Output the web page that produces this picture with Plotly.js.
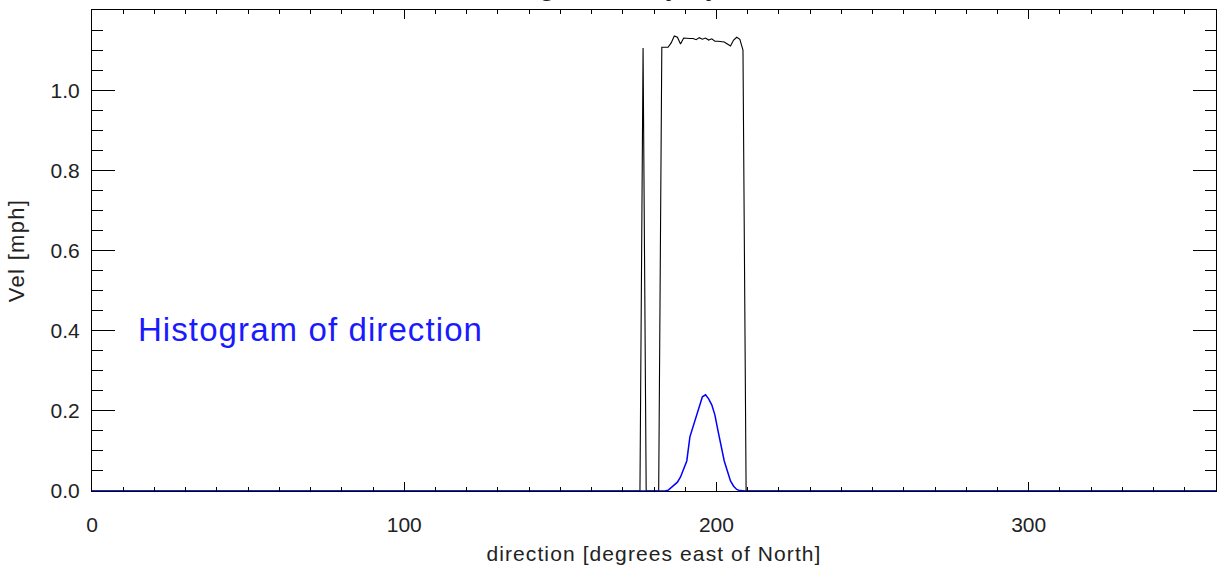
<!DOCTYPE html>
<html>
<head>
<meta charset="utf-8">
<script src="https://cdn.plot.ly/plotly-3.0.1.min.js"></script>
<style>
  html, body { margin: 0; padding: 0; background: #ffffff; }
  #chart { width: 1218px; height: 571px; }
  #chart .xtitle { letter-spacing: 1.1px; }
  #chart .ytitle { letter-spacing: 1.3px; }
  #chart .annotation[data-index="0"] .annotation-text { letter-spacing: 1.1px; }
</style>
</head>
<body>
<div id="chart"></div>
<script>
// Average velocity per 1-degree direction bin (bin centres, degrees east of North)
const velDirection = [0, 175.5, 176.5, 177.5, 181.5, 182.5, 183.5, 184.5, 185.5, 186.5,
  187.5, 188.5, 189.5, 190.5, 191.5, 192.5, 193.5, 194.5, 195.5, 196.5,
  197.5, 198.5, 199.5, 200.5, 201.5, 202.5, 203.5, 204.5, 205.5, 206.5,
  207.5, 208.5, 209.5, 360];
const velValues = [0, 0, 1.105, 0, 0, 1.107, 1.107, 1.107, 1.118, 1.135,
  1.132, 1.115, 1.130, 1.129, 1.129, 1.129, 1.126, 1.131, 1.127, 1.130,
  1.125, 1.128, 1.122, 1.122, 1.121, 1.120, 1.115, 1.110, 1.125, 1.132,
  1.127, 1.100, 0, 0];

// Histogram of direction (normalised counts per 1-degree bin)
const histDirection = [0, 183.5, 184.5, 185.5, 186.5, 187.5, 188.5, 189.5, 190.5, 191.5,
  192.5, 193.5, 194.5, 195.5, 196.5, 197.5, 198.5, 199.5, 200.5, 201.5,
  202.5, 203.5, 204.5, 205.5, 206.5, 207.5, 208.5, 209.5, 360];
const histValues = [0, 0, 0.002, 0.008, 0.015, 0.022, 0.035, 0.055, 0.075, 0.135,
  0.160, 0.185, 0.215, 0.235, 0.240, 0.230, 0.215, 0.190, 0.150, 0.110,
  0.075, 0.050, 0.025, 0.012, 0.004, 0.001, 0, 0, 0];

const xTickVals = [0, 100, 200, 300];
const xTickText = ['0', '100', '200', '300'];
const yTickVals = [0, 0.2, 0.4, 0.6, 0.8, 1.0];
const yTickText = ['0.0', '0.2', '0.4', '0.6', '0.8', '1.0'];

const titleText = 'Average velocity by direction';
const labelText = 'Histogram of direction';

const fontFam = 'Liberation Sans, Arial, Helvetica, sans-serif';

const traces = [
  { x: velDirection, y: velValues, type: 'scatter', mode: 'lines',
    line: { color: '#000000', width: 1.1 }, hoverinfo: 'skip', showlegend: false },
  { x: histDirection, y: histValues, type: 'scatter', mode: 'lines',
    line: { color: '#0000ff', width: 1.5 }, hoverinfo: 'skip', showlegend: false }
];

const layout = {
  width: 1218, height: 571,
  margin: { l: 92, r: 2, t: 10, b: 80 },
  paper_bgcolor: '#ffffff', plot_bgcolor: '#ffffff',
  font: { family: fontFam, size: 21, color: '#222222' },
  showlegend: false,
  xaxis: {
    range: [0, 360], showgrid: false, zeroline: false,
    showline: true, linecolor: '#000000', linewidth: 1, mirror: 'ticks',
    ticks: 'inside', ticklen: 9, tickcolor: '#000000', tickwidth: 1,
    tickvals: xTickVals, ticktext: xTickText,
    ticklabelstandoff: 15,
    minor: { dtick: 10, ticks: 'inside', ticklen: 4, tickcolor: '#000000', tickwidth: 1, showgrid: false },
    title: { text: 'direction [degrees east of North]', standoff: 11, font: { size: 21, color: '#222222' } }
  },
  yaxis: {
    range: [0, 1.2], showgrid: false, zeroline: false,
    showline: true, linecolor: '#000000', linewidth: 1, mirror: 'ticks',
    ticks: 'inside', ticklen: 23, tickcolor: '#000000', tickwidth: 1,
    tickvals: yTickVals, ticktext: yTickText,
    ticklabelstandoff: 7,
    minor: { dtick: 0.05, ticks: 'inside', ticklen: 11, tickcolor: '#000000', tickwidth: 1, showgrid: false },
    title: { text: 'Vel [mph]', standoff: 19, font: { size: 22, color: '#222222' } }
  },
  annotations: [
    { text: labelText, xref: 'x', yref: 'y', x: 18.0, y: 0.402,
      xanchor: 'left', yanchor: 'middle', showarrow: false,
      font: { family: fontFam, size: 33, color: '#1a1aff' } },
    { text: titleText, xref: 'paper', yref: 'paper', x: 0.4975, y: 1.0148,
      xanchor: 'center', yanchor: 'bottom', showarrow: false,
      font: { family: fontFam, size: 30, color: '#222222' } }
  ]
};

Plotly.newPlot('chart', traces, layout, { staticPlot: true, displayModeBar: false });
</script>
</body>
</html>
